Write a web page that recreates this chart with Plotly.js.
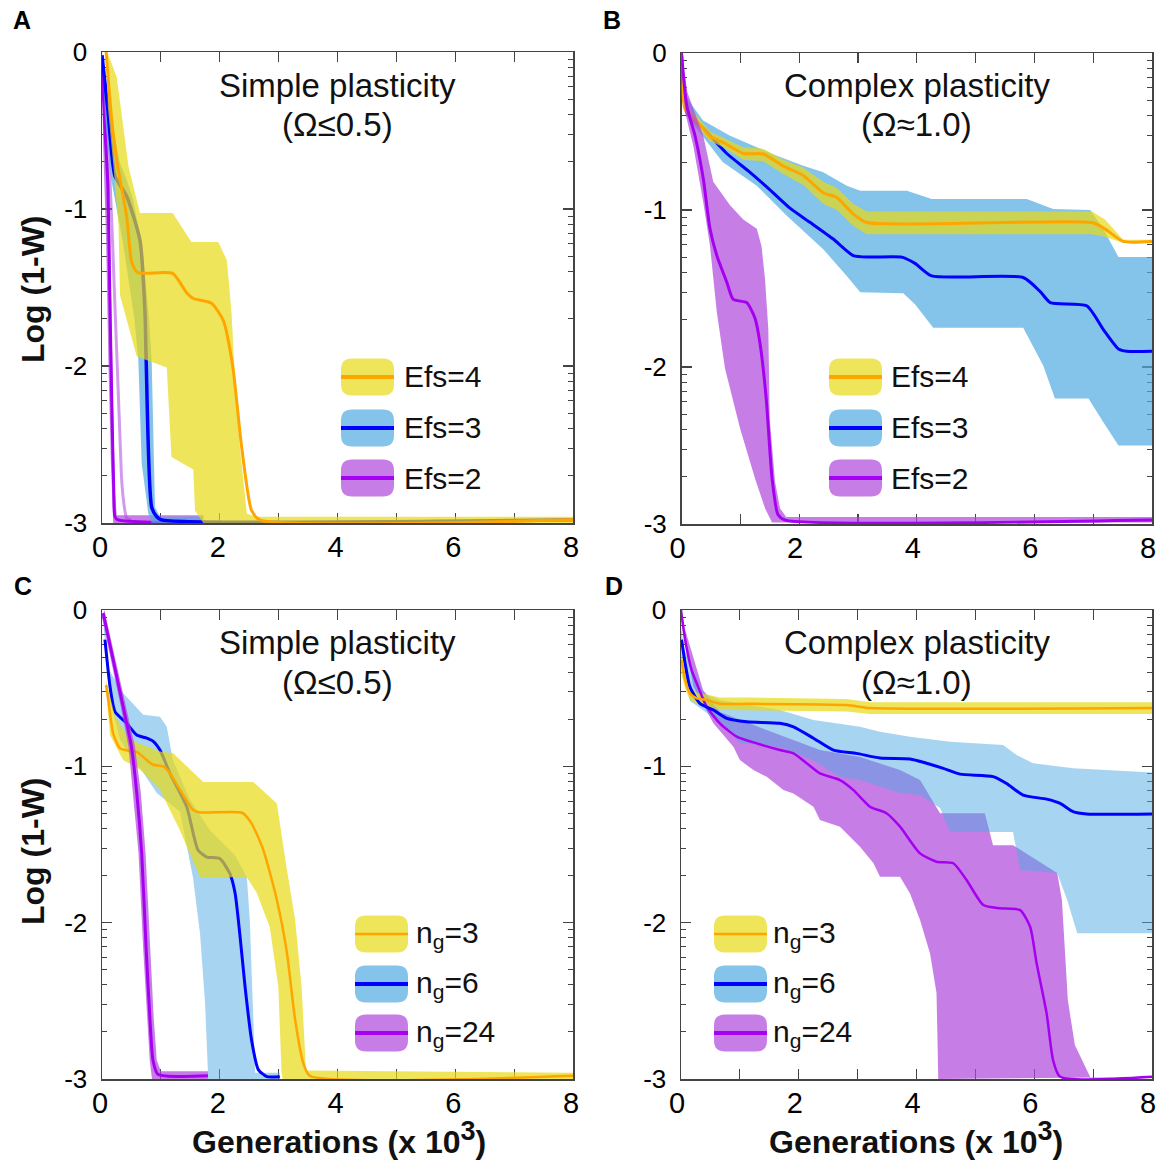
<!DOCTYPE html>
<html><head><meta charset="utf-8">
<script src="https://cdn.plot.ly/plotly-3.0.1.min.js"></script>
<style>html,body{margin:0;padding:0;background:#fff}#chart{width:1166px;height:1160px}</style>
</head><body><div id="chart"></div>
<script>
// ---------- DATA (x: generations x10^3, y: log10(1-W)) ----------
// Panel A (Simple plasticity, Efs)
const A_org_x = [0.07,0.165,0.25,0.42,0.505,0.61,1.2,1.44,1.55,1.86,2.06,2.22,2.37,2.54,2.68,8];
const A_org_y = [0,-0.43,-0.69,-1.05,-1.34,-1.405,-1.41,-1.535,-1.57,-1.6,-1.71,-2.0,-2.51,-2.92,-2.98,-2.98];
const A_yel_hi_x = [0.07,0.1,0.25,0.39,0.45,0.645,1.2,1.52,1.975,2.12,2.2,2.26,2.34,2.46,2.6,8];
const A_yel_hi_y = [0,-0.01,-0.16,-0.56,-0.73,-1.025,-1.025,-1.21,-1.21,-1.325,-1.66,-2.09,-2.51,-2.94,-2.96,-2.96];
const A_yel_lo_x = [0.07,0.1,0.2,0.28,0.306,0.59,1.1,1.18,1.55,1.58,1.72,8];
const A_yel_lo_y = [0,-0.35,-0.75,-1.1,-1.55,-1.94,-2.01,-2.58,-2.66,-2.92,-3.0,-3.0];
const A_blu_x = [0,0.1,0.22,0.42,0.645,0.73,0.75,0.844,0.93,1.01,8];
const A_blu_y = [-0.02,-0.37,-0.79,-0.92,-1.2,-1.66,-1.96,-2.9,-2.96,-2.98,-2.98];
const A_blb_hi_x = [0,0.1,0.3,0.42,0.53,0.7,0.8,0.844,0.9,0.985,1.72,1.72];
const A_blb_hi_y = [0,-0.3,-0.7,-0.815,-0.94,-1.3,-1.7,-1.97,-2.9,-2.96,-2.96,-3.0];
const A_blb_lo_x = [0,0.05,0.15,0.35,0.55,0.617,0.674,0.786,0.844];
const A_blb_lo_y = [0,-0.4,-0.8,-1.2,-1.7,-1.96,-2.62,-2.94,-3.0];
const A_pur_x = [0,0.05,0.1,0.13,0.17,0.2,0.22,0.27,8];
const A_pur_y = [-0.08,-0.5,-0.85,-1.5,-2.3,-2.8,-2.96,-2.98,-2.98];
const A_plb_hi_x = [0,0.05,0.12,0.15,0.19,0.22,0.25,1.72,1.72];
const A_plb_hi_y = [0,-0.3,-0.8,-1.5,-2.3,-2.8,-2.95,-2.95,-3.0];
const A_plb_lo_x = [0,0.02,0.07,0.11,0.15,0.19];
const A_plb_lo_y = [-0.05,-0.6,-1.2,-2.0,-2.6,-3.0];
const A_pedge_x = [0.03,0.136,0.216,0.3,0.335,0.38,0.42,0.5];
const A_pedge_y = [-0.2,-0.815,-1.58,-2.4,-2.73,-2.9,-2.97,-2.98];

// Panel B (Complex plasticity, Efs)
const B_org_x = [0,0.06,0.23,0.485,0.71,1.05,1.39,1.73,2.07,2.41,2.64,2.92,3.15,6.98,7.2,7.51,8];
const B_org_y = [0,-0.357,-0.42,-0.53,-0.57,-0.64,-0.643,-0.72,-0.78,-0.89,-0.92,-1.025,-1.08,-1.08,-1.12,-1.2,-1.2];
const B_yel_x = [0,0.06,0.23,0.485,0.71,1.05,1.39,1.73,2.07,2.41,2.64,2.92,3.15,6.98,7.2,7.51,8];
const B_yel_hi_y = [0,-0.33,-0.39,-0.5,-0.54,-0.6,-0.61,-0.68,-0.73,-0.82,-0.86,-0.96,-1.01,-1.01,-1.06,-1.19,-1.19];
const B_yel_lo_y = [0,-0.38,-0.45,-0.56,-0.6,-0.68,-0.69,-0.77,-0.84,-0.96,-1.0,-1.1,-1.155,-1.155,-1.17,-1.21,-1.21];
const B_blu_x = [0,0.09,0.37,0.77,1.165,1.5,1.85,2.19,2.58,2.92,3.2,3.745,3.97,4.255,5.81,6.1,6.27,6.89,7.17,7.43,7.57,8];
const B_blu_y = [0,-0.38,-0.48,-0.64,-0.76,-0.87,-0.99,-1.08,-1.185,-1.29,-1.3,-1.3,-1.34,-1.42,-1.43,-1.52,-1.59,-1.61,-1.76,-1.885,-1.9,-1.9];
const B_blb_hi_x = [0,0.06,0.366,0.825,1.28,1.62,2.07,2.41,2.81,3.04,3.83,4.255,5.87,6.32,6.95,7.17,7.43,8];
const B_blb_hi_y = [0,-0.27,-0.43,-0.527,-0.6,-0.654,-0.718,-0.76,-0.845,-0.877,-0.877,-0.93,-0.93,-0.994,-1.0,-1.12,-1.3,-1.3];
const B_blb_lo_x = [0,0.09,0.7,1.28,1.79,2.41,2.81,3.04,3.77,3.97,4.28,5.81,6.15,6.35,6.92,7.17,7.43,8];
const B_blb_lo_y = [0,-0.4,-0.694,-0.845,-1.036,-1.25,-1.42,-1.524,-1.53,-1.6,-1.75,-1.75,-1.99,-2.2,-2.2,-2.35,-2.5,-2.5];
const B_pur_x = [0,0.09,0.23,0.37,0.485,0.6,0.77,0.88,1.11,1.25,1.335,1.44,1.54,1.64,1.76,8];
const B_pur_y = [0,-0.336,-0.527,-0.8,-1.12,-1.29,-1.46,-1.57,-1.59,-1.69,-1.85,-2.2,-2.71,-2.94,-2.975,-2.975];
const B_plb_hi_x = [0,0.1,0.37,0.54,0.825,1.05,1.28,1.36,1.42,1.476,1.5,1.59,1.675,1.78,8];
const B_plb_hi_y = [0,-0.25,-0.527,-0.82,-0.97,-1.06,-1.12,-1.23,-1.44,-1.76,-2.33,-2.73,-2.9,-2.955,-2.955];
const B_plb_lo_x = [0,0.06,0.2,0.37,0.485,0.6,0.74,0.995,1.25,1.42,1.54,8];
const B_plb_lo_y = [0,-0.376,-0.59,-0.95,-1.23,-1.65,-2.01,-2.39,-2.71,-2.9,-2.99,-2.99];

// Panel C (Simple plasticity, ng)
const C_org_x = [0.07,0.107,0.19,0.306,0.447,0.59,0.76,0.87,1.04,1.155,1.325,1.55,1.665,2.38,2.54,2.74,2.97,3.14,3.28,3.42,3.53,8];
const C_org_y = [-0.48,-0.576,-0.79,-0.885,-0.9,-0.907,-0.96,-0.99,-1.0,-1.045,-1.15,-1.28,-1.295,-1.297,-1.365,-1.535,-1.855,-2.19,-2.62,-2.9,-2.98,-2.98];
const C_yel_hi_x = [0.07,0.22,0.475,0.985,1.21,1.72,2.57,2.97,3.14,3.28,3.39,3.465,8];
const C_yel_hi_y = [-0.45,-0.68,-0.83,-0.905,-0.917,-1.1,-1.1,-1.237,-1.66,-1.98,-2.41,-2.945,-2.96];
const C_yel_lo_x = [0.07,0.136,0.357,0.645,0.985,1.325,1.665,2.46,2.63,2.85,2.995,3.05,3.07,8];
const C_yel_lo_y = [-0.51,-0.8,-0.96,-1.02,-1.15,-1.41,-1.71,-1.71,-1.81,-2.03,-2.41,-2.96,-3.0,-3.0];
const C_blu_x = [0.05,0.08,0.136,0.22,0.42,0.59,0.76,0.87,0.985,1.155,1.44,1.63,1.78,2.0,2.17,2.26,2.34,2.43,2.54,2.655,2.8,3.02];
const C_blu_y = [-0.19,-0.3,-0.49,-0.65,-0.725,-0.8,-0.82,-0.84,-0.896,-1.045,-1.26,-1.535,-1.58,-1.59,-1.685,-1.81,-2.07,-2.41,-2.75,-2.94,-2.985,-2.985];
const C_blb_hi_x = [0.05,0.12,0.36,0.7,0.985,1.1,1.205,1.495,1.83,2.26,2.46,2.51,2.57,2.6,3.02,3.02];
const C_blb_hi_y = [-0.12,-0.384,-0.533,-0.67,-0.683,-0.747,-0.96,-1.216,-1.408,-1.568,-1.71,-1.98,-2.62,-2.96,-2.96,-3.0];
const C_blb_lo_x = [0.03,0.136,0.306,0.53,0.7,0.93,1.325,1.545,1.665,1.75,1.8,1.8];
const C_blb_lo_y = [-0.12,-0.576,-0.83,-0.96,-1.04,-1.17,-1.29,-1.71,-2.07,-2.51,-2.96,-3.0];
const C_pur_x = [0.02,0.19,0.36,0.5,0.59,0.674,0.75,0.815,0.866,0.95,1.8];
const C_pur_y = [-0.02,-0.32,-0.62,-0.875,-1.17,-1.555,-2.17,-2.62,-2.88,-2.97,-2.98];
const C_plb_hi_x = [0.04,0.23,0.41,0.56,0.66,0.74,0.82,0.88,0.93,1.0,1.8,1.8];
const C_plb_hi_y = [0,-0.32,-0.62,-0.875,-1.17,-1.555,-2.17,-2.62,-2.88,-2.95,-2.95,-3.0];
const C_plb_lo_x = [0,0.15,0.32,0.45,0.53,0.62,0.7,0.77,0.81,0.85];
const C_plb_lo_y = [-0.05,-0.32,-0.62,-0.875,-1.17,-1.555,-2.17,-2.62,-2.88,-3.0];

// Panel D (Complex plasticity, ng)
const D_org_x = [0.01,0.07,0.15,0.27,0.44,0.66,1.12,2.81,3.21,8];
const D_org_y = [-0.32,-0.448,-0.533,-0.565,-0.576,-0.6,-0.6,-0.608,-0.627,-0.627];
const D_yel_x = [0,0.07,0.15,0.27,0.44,0.66,1.12,2.81,3.21,8];
const D_yel_hi_y = [-0.25,-0.4,-0.49,-0.53,-0.54,-0.56,-0.56,-0.57,-0.59,-0.59];
const D_yel_lo_y = [-0.4,-0.5,-0.575,-0.6,-0.615,-0.64,-0.64,-0.65,-0.665,-0.665];
const D_blu_x = [0.01,0.07,0.15,0.32,0.55,0.78,1.116,1.68,1.91,2.25,2.59,2.98,3.38,3.89,4.17,4.455,4.74,5.3,5.53,5.81,6.21,6.44,6.66,6.89,8];
const D_blu_y = [-0.19,-0.34,-0.49,-0.597,-0.64,-0.693,-0.715,-0.725,-0.747,-0.82,-0.896,-0.917,-0.947,-0.953,-0.98,-1.013,-1.05,-1.066,-1.11,-1.184,-1.21,-1.237,-1.29,-1.305,-1.305];
const D_blb_hi_x = [0,0.05,0.38,0.66,1.68,2.25,3.04,3.38,3.89,4.57,5.47,5.7,5.98,6.66,8];
const D_blb_hi_y = [-0.1,-0.25,-0.533,-0.576,-0.64,-0.704,-0.747,-0.779,-0.81,-0.843,-0.864,-0.928,-0.98,-1.013,-1.04];
const D_blb_lo_x = [0,0.05,0.15,0.437,0.776,1.0,1.68,2.24,2.7,3.04,3.72,4.06,4.4,4.57,5.64,5.76,6.39,6.56,6.73,8];
const D_blb_lo_y = [-0.25,-0.42,-0.58,-0.66,-0.749,-0.851,-0.877,-0.96,-1.068,-1.088,-1.171,-1.184,-1.267,-1.42,-1.42,-1.663,-1.683,-1.855,-2.067,-2.067];
const D_pur_x = [0,0.07,0.18,0.29,0.437,0.66,0.946,1.286,1.68,1.91,2.135,2.36,2.7,2.93,3.21,3.49,3.72,4.06,4.34,4.625,4.85,5.135,5.42,5.76,5.93,6.04,6.21,6.32,6.44,8];
const D_pur_y = [0,-0.19,-0.384,-0.49,-0.62,-0.725,-0.81,-0.853,-0.896,-0.917,-0.98,-1.045,-1.088,-1.152,-1.258,-1.3,-1.386,-1.557,-1.61,-1.62,-1.727,-1.887,-1.908,-1.92,-2.026,-2.26,-2.58,-2.88,-2.986,-2.986];
const D_plb_hi_x = [0,0.05,0.374,0.662,1.68,2.36,3.04,3.72,4.06,4.4,5.16,5.3,5.64,6.39,6.47,6.57,6.69,6.95,8];
const D_plb_hi_y = [0,-0.1,-0.512,-0.653,-0.8,-0.896,-0.94,-1.024,-1.088,-1.3,-1.3,-1.504,-1.504,-1.683,-1.855,-2.495,-2.783,-2.988,-2.988];
const D_plb_lo_x = [0,0.21,0.55,0.89,1.0,1.23,1.456,1.74,1.91,2.25,2.36,2.7,3.04,3.27,3.38,3.72,3.89,4.06,4.23,4.34,4.37];
const D_plb_lo_y = [-0.05,-0.49,-0.725,-0.875,-0.96,-1.024,-1.067,-1.152,-1.173,-1.258,-1.343,-1.386,-1.514,-1.62,-1.706,-1.706,-1.813,-1.983,-2.197,-2.45,-3.0];

// Labels
const titlesTop = ['Simple plasticity','Complex plasticity','Simple plasticity','Complex plasticity'];
const titlesSub = ['(Ω≤0.5)','(Ω≈1.0)','(Ω≤0.5)','(Ω≈1.0)'];
const legendEfs = ['Efs=4','Efs=3','Efs=2'];
const legendNg = ['n<sub>g</sub>=3','n<sub>g</sub>=6','n<sub>g</sub>=24'];
const panelLetters = ['A','B','C','D'];
const xTickVals = [0,2,4,6,8];
const xTickText = ['0','2','4','6','8'];
const yTickVals = [1,0.1,0.01,0.001];
const yTickText = ['0','-1','-2','-3'];

// ---------- STYLE ----------
const W = 1166, H = 1160;
const FONT = 'Liberation Sans, Arial, sans-serif';
const COL = {
  org: 'rgb(255,165,0)', blu: 'rgb(0,0,255)', pur: 'rgb(165,0,240)',
  yel: 'rgba(232,218,20,0.7)', bluA: 'rgba(80,170,225,0.7)', bluC: 'rgba(80,170,225,0.5)',
  purF: 'rgba(175,70,220,0.7)', purEdge: 'rgba(175,70,220,0.55)'
};
const P = v => Math.pow(10, v);

function band(hx, hy, lx, ly, color, ax) {
  return { x: hx.concat(lx.slice().reverse()), y: hy.concat(ly.slice().reverse()).map(P),
    xaxis: 'x' + ax, yaxis: 'y' + ax, mode: 'lines', fill: 'toself', fillcolor: color,
    line: { width: 0 }, hoverinfo: 'skip', showlegend: false };
}
function line(x, y, color, width, ax) {
  return { x: x, y: y.map(P), xaxis: 'x' + ax, yaxis: 'y' + ax, mode: 'lines',
    line: { color: color, width: width, shape: 'spline', smoothing: 0.6 }, showlegend: false };
}

const data = [
  // A
  band(A_plb_hi_x, A_plb_hi_y, A_plb_lo_x, A_plb_lo_y, COL.purF, ''),
  line(A_pedge_x, A_pedge_y, COL.purEdge, 3, ''),
  line(A_pur_x, A_pur_y, COL.pur, 3, ''),
  band(A_blb_hi_x, A_blb_hi_y, A_blb_lo_x, A_blb_lo_y, COL.bluA, ''),
  line(A_blu_x, A_blu_y, COL.blu, 3.5, ''),
  band(A_yel_hi_x, A_yel_hi_y, A_yel_lo_x, A_yel_lo_y, COL.yel, ''),
  line(A_org_x, A_org_y, COL.org, 3, ''),
  // B
  band(B_blb_hi_x, B_blb_hi_y, B_blb_lo_x, B_blb_lo_y, COL.bluA, '2'),
  line(B_blu_x, B_blu_y, COL.blu, 3, '2'),
  band(B_yel_x, B_yel_hi_y, B_yel_x, B_yel_lo_y, COL.yel, '2'),
  line(B_org_x, B_org_y, COL.org, 3, '2'),
  band(B_plb_hi_x, B_plb_hi_y, B_plb_lo_x, B_plb_lo_y, COL.purF, '2'),
  line(B_pur_x, B_pur_y, COL.pur, 3, '2'),
  // C
  band(C_blb_hi_x, C_blb_hi_y, C_blb_lo_x, C_blb_lo_y, COL.bluC, '3'),
  line(C_blu_x, C_blu_y, COL.blu, 3, '3'),
  band(C_yel_hi_x, C_yel_hi_y, C_yel_lo_x, C_yel_lo_y, COL.yel, '3'),
  line(C_org_x, C_org_y, COL.org, 2.5, '3'),
  band(C_plb_hi_x, C_plb_hi_y, C_plb_lo_x, C_plb_lo_y, COL.purF, '3'),
  line(C_pur_x, C_pur_y, COL.pur, 3, '3'),
  // D
  band(D_plb_hi_x, D_plb_hi_y, D_plb_lo_x, D_plb_lo_y, COL.purF, '4'),
  band(D_blb_hi_x, D_blb_hi_y, D_blb_lo_x, D_blb_lo_y, COL.bluC, '4'),
  band(D_yel_x, D_yel_hi_y, D_yel_x, D_yel_lo_y, COL.yel, '4'),
  line(D_pur_x, D_pur_y, COL.pur, 2.5, '4'),
  line(D_blu_x, D_blu_y, COL.blu, 3, '4'),
  line(D_org_x, D_org_y, COL.org, 2.5, '4')
];

// ---------- LAYOUT ----------
const dom = {
  A: { x: [102 / W, 573 / W], y: [1 - 523 / H, 1 - 52 / H] },
  B: { x: [681.5 / W, 1152 / W], y: [1 - 524 / H, 1 - 53 / H] },
  C: { x: [102 / W, 573 / W], y: [1 - 1079 / H, 1 - 610 / H] },
  D: { x: [681 / W, 1152 / W], y: [1 - 1079 / H, 1 - 610 / H] }
};
function xa(d, anchor, shift) {
  return { domain: d, anchor: anchor, range: [0, 8], tickmode: 'array', tickvals: xTickVals, ticktext: xTickText,
    ticks: 'inside', ticklen: 10, tickwidth: 1.2, tickcolor: '#444', showline: true, linecolor: '#444', linewidth: 1.5,
    mirror: 'ticks', showgrid: false, zeroline: false, layer: 'below traces', ticklabelstandoff: -2, ticklabelshift: shift,
    minor: { ticks: 'inside', ticklen: 10, tickwidth: 1.2, tickcolor: '#444', dtick: 1, tick0: 0, showgrid: false },
    tickfont: { family: FONT, size: 29, color: '#000' }, fixedrange: true };
}
function ya(d, anchor) {
  return { domain: d, anchor: anchor, type: 'log', range: [-3, 0], tickmode: 'array', tickvals: yTickVals, ticktext: yTickText,
    ticks: 'inside', ticklen: 10, tickwidth: 1.2, tickcolor: '#444', showline: true, linecolor: '#444', linewidth: 1.5,
    mirror: 'ticks', showgrid: false, zeroline: false, layer: 'below traces', ticklabelstandoff: 8,
    minor: { ticks: 'inside', ticklen: 5, tickwidth: 1, tickcolor: '#444', dtick: 'D1', showgrid: false },
    tickfont: { family: FONT, size: 26, color: '#000' }, fixedrange: true };
}

const px = v => v / W, py = v => 1 - v / H;
const annotations = [];
const shapes = [];
// panel letters
[[22, 20], [612, 20], [23, 586], [614, 586]].forEach((p, i) => annotations.push({
  text: '<b>' + panelLetters[i] + '</b>', xref: 'paper', yref: 'paper', x: px(p[0]), y: py(p[1]),
  xanchor: 'center', yanchor: 'middle', showarrow: false, font: { family: FONT, size: 25, color: '#000' } }));
// panel titles
const titleY = [[85, 125], [85, 125], [642, 682], [642, 682]];
['x', 'x2', 'x3', 'x4'].forEach((ax, i) => {
  annotations.push({ text: titlesTop[i], xref: ax + ' domain', yref: 'paper', x: 0.5, y: py(titleY[i][0]),
    xanchor: 'center', yanchor: 'middle', showarrow: false, font: { family: FONT, size: 33, color: '#111' } });
  annotations.push({ text: titlesSub[i], xref: ax + ' domain', yref: 'paper', x: 0.5, y: py(titleY[i][1]),
    xanchor: 'center', yanchor: 'middle', showarrow: false, font: { family: FONT, size: 33, color: '#111' } });
});
// axis titles
[289, 851].forEach(y => annotations.push({ text: '<b>Log (1-W)</b>', xref: 'paper', yref: 'paper', x: px(33), y: py(y),
  xanchor: 'center', yanchor: 'middle', textangle: -90, showarrow: false, font: { family: FONT, size: 32, color: '#111' } }));
[339, 916].forEach(x => annotations.push({ text: '<b>Generations (x 10<sup><span style="font-size:27px">3</span></sup>)</b>', xref: 'paper', yref: 'paper',
  x: px(x), y: py(1138), xanchor: 'center', yanchor: 'middle', showarrow: false, font: { family: FONT, size: 32, color: '#111' } }));

// custom legends
function rrect(x0, y0, x1, y1, r) {
  const X = v => px(v).toFixed(5), Y = v => py(v).toFixed(5);
  return `M${X(x0 + r)},${Y(y0)} L${X(x1 - r)},${Y(y0)} Q${X(x1)},${Y(y0)} ${X(x1)},${Y(y0 + r)} L${X(x1)},${Y(y1 - r)} Q${X(x1)},${Y(y1)} ${X(x1 - r)},${Y(y1)} L${X(x0 + r)},${Y(y1)} Q${X(x0)},${Y(y1)} ${X(x0)},${Y(y1 - r)} L${X(x0)},${Y(y0 + r)} Q${X(x0)},${Y(y0)} ${X(x0 + r)},${Y(y0)} Z`;
}
const legFill = [COL.yel, COL.bluA, COL.purF];
const legLine = [COL.org, COL.blu, COL.pur];
function legend(x0, yc, labels, lw, tx) {
  yc.forEach((c, i) => {
    shapes.push({ type: 'path', xref: 'paper', yref: 'paper', path: rrect(x0, c - 18.5, x0 + 53, c + 18.5, 11),
      fillcolor: legFill[i], line: { width: 0 } });
    shapes.push({ type: 'line', xref: 'paper', yref: 'paper', x0: px(x0), x1: px(x0 + 53), y0: py(c), y1: py(c),
      line: { color: legLine[i], width: lw[i] } });
    annotations.push({ text: labels[i], xref: 'paper', yref: 'paper', x: px(x0 + tx), y: py(c), xanchor: 'left',
      yanchor: 'middle', showarrow: false, font: { family: FONT, size: 30, color: '#111' } });
  });
}
legend(341, [377, 428, 478], legendEfs, [4, 4, 4], 61);
legend(829, [377, 428, 478], legendEfs, [4, 4, 4], 60);
legend(355, [934, 984, 1033], legendNg, [2.5, 4, 4], 59);
legend(714, [934, 984, 1033], legendNg, [2.5, 4, 4], 57);

const layout = {
  width: W, height: H, margin: { l: 0, r: 0, t: 0, b: 0 }, paper_bgcolor: '#fff', plot_bgcolor: '#fff',
  showlegend: false, font: { family: FONT },
  xaxis: xa(dom.A.x, 'y', -2), yaxis: ya(dom.A.y, 'x'),
  xaxis2: xa(dom.B.x, 'y2', -4), yaxis2: ya(dom.B.y, 'x2'),
  xaxis3: xa(dom.C.x, 'y3', -2), yaxis3: ya(dom.C.y, 'x3'),
  xaxis4: xa(dom.D.x, 'y4', -4), yaxis4: ya(dom.D.y, 'x4'),
  annotations: annotations, shapes: shapes
};
Plotly.newPlot('chart', data, layout, { staticPlot: true, displayModeBar: false });
</script>
</body></html>
